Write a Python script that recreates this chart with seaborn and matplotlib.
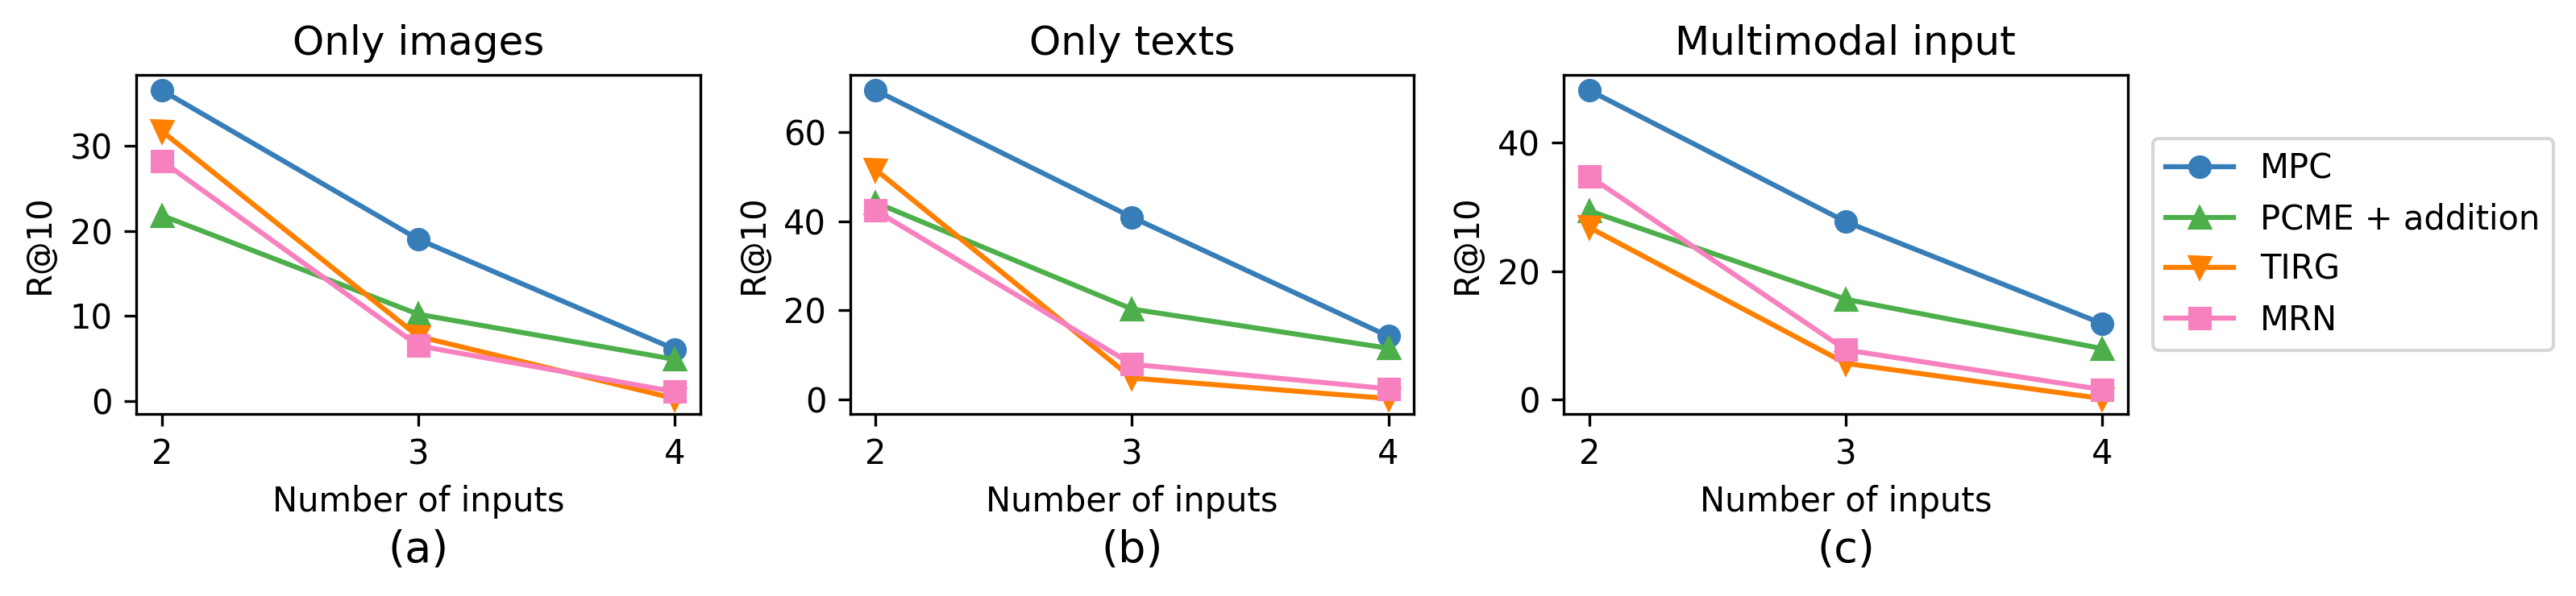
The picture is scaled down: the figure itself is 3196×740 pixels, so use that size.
import seaborn as sns
import pandas as pd
import matplotlib
matplotlib.use("Agg")
import matplotlib.pyplot as plt

# number of inputs on the x axis
n_inputs = [2, 3, 4]
methods = ["MPC", "PCME + addition", "TIRG", "MRN"]
panel_titles = ["Only images", "Only texts", "Multimodal input"]
panel_tags = ["(a)", "(b)", "(c)"]

# R@10, one list per method, per panel
images_mpc = [36.5, 19.0, 6.1]
images_pcme = [21.8, 10.2, 4.9]
images_tirg = [31.7, 7.6, 0.3]
images_mrn = [28.2, 6.5, 1.1]

texts_mpc = [69.4, 40.9, 14.2]
texts_pcme = [44.2, 20.3, 11.5]
texts_tirg = [51.6, 4.8, 0.2]
texts_mrn = [42.4, 7.9, 2.4]

multi_mpc = [48.2, 27.7, 11.8]
multi_pcme = [29.4, 15.6, 7.9]
multi_tirg = [26.8, 5.6, 0.1]
multi_mrn = [34.8, 7.7, 1.5]

colors = {"MPC": "#377eb8", "PCME + addition": "#4daf4a", "TIRG": "#ff7f00", "MRN": "#f781bf"}
markers = {"MPC": "o", "PCME + addition": "^", "TIRG": "v", "MRN": "s"}


def make_df():
    panels = {
        "Only images": [images_mpc, images_pcme, images_tirg, images_mrn],
        "Only texts": [texts_mpc, texts_pcme, texts_tirg, texts_mrn],
        "Multimodal input": [multi_mpc, multi_pcme, multi_tirg, multi_mrn],
    }
    rows = []
    for panel, series in panels.items():
        for method, vals in zip(methods, series):
            for n, v in zip(n_inputs, vals):
                rows.append({"panel": panel, "method": method, "n": n, "R@10": v})
    return pd.DataFrame(rows)


def lineplots():
    df = make_df()
    fig, axes = plt.subplots(1, 3, figsize=(3196 / 300, 740 / 300), dpi=300)
    fig.subplots_adjust(left=0.0529, right=0.826, top=0.8743, bottom=0.3054, wspace=0.265)
    for ax, title, tag in zip(axes, panel_titles, panel_tags):
        sub = df[df["panel"] == title]
        for method in methods:
            d = sub[sub["method"] == method]
            sns.lineplot(data=d, x="n", y="R@10", ax=ax, color=colors[method],
                         marker=markers[method], markersize=6, markeredgecolor=colors[method],
                         markeredgewidth=1, linewidth=1.5, label=method)
        ax.get_legend().remove()
        ax.set_title(title, fontsize=12)
        ax.set_xlabel("Number of inputs", fontsize=10)
        ax.set_ylabel("R@10", fontsize=10)
        ax.set_xticks(n_inputs)
        ax.text(0.5, -0.40, tag, transform=ax.transAxes, ha="center", va="center", fontsize=13)
    handles, labels = axes[2].get_legend_handles_labels()
    axes[2].legend(handles, labels, loc="center left", bbox_to_anchor=(1.044, 0.5),
                   borderaxespad=0, fontsize=10)
    plt.savefig("out.png", dpi=300)


if __name__ == '__main__':
    lineplots()
